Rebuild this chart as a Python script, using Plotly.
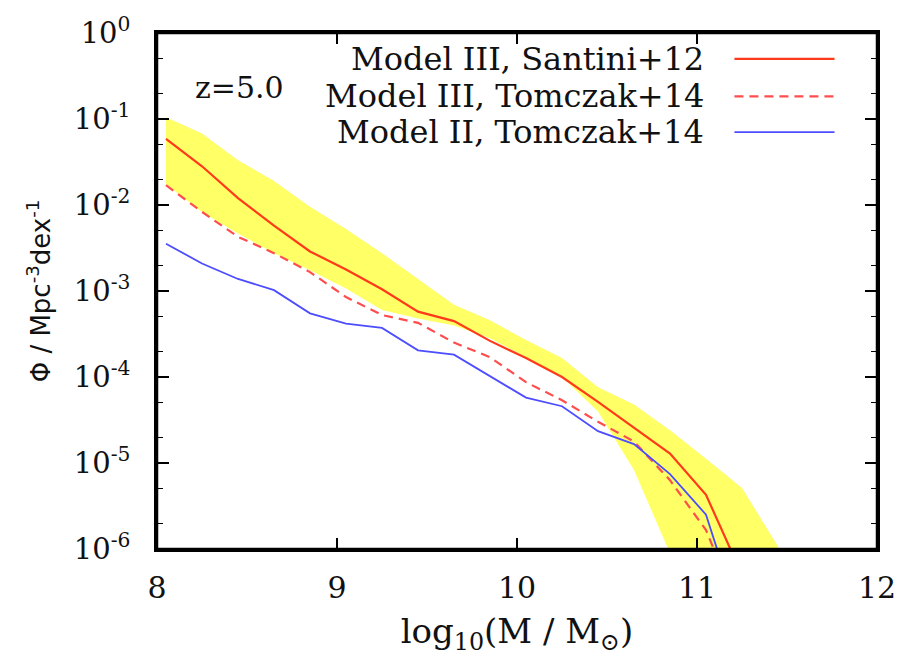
import plotly.graph_objects as go

# Stellar mass bins (log10 M / Msun)
mass = [8.05, 8.25, 8.45, 8.65, 8.85, 9.05, 9.25, 9.45, 9.65, 9.85,
        10.05, 10.25, 10.45, 10.65, 10.85, 11.05, 11.25]

# log10 Phi for each model
logphi_m3_santini = [-1.23, -1.55, -1.92, -2.24, -2.54, -2.75, -2.98, -3.24, -3.35, -3.58,
                     -3.78, -4.00, -4.29, -4.59, -4.89, -5.37, -6.30]
logphi_m3_tomczak = [-1.77, -2.08, -2.37, -2.56, -2.78, -3.07, -3.28, -3.37, -3.60, -3.77,
                     -4.06, -4.27, -4.52, -4.75, -5.20, -5.78, -6.80]
logphi_m2_tomczak = [-2.45, -2.68, -2.86, -2.99, -3.26, -3.38, -3.43, -3.69, -3.74, -3.99,
                     -4.24, -4.34, -4.63, -4.78, -5.13, -5.60, -6.90]

# Observational range (shaded band)
band_mass = [8.05, 8.25, 8.45, 8.65, 8.85, 9.05, 9.25, 9.45, 9.65, 9.85,
             10.05, 10.25, 10.45, 10.65, 10.85, 11.05, 11.25, 11.45, 11.65]
band_upper = [-0.98, -1.17, -1.48, -1.72, -2.02, -2.28, -2.56, -2.86, -3.16, -3.34,
              -3.57, -3.78, -4.12, -4.32, -4.62, -4.95, -5.29, -5.97, -7.00]
band_lower = [-1.76, -2.08, -2.33, -2.56, -2.76, -2.97, -3.22, -3.32, -3.40, -3.55,
              -3.77, -4.00, -4.40, -5.08, -6.05, -8.00, -8.00, -8.00, -8.00]

ytick_exp = [0, -1, -2, -3, -4, -5, -6]
xtick_vals = [8, 9, 10, 11, 12]

legend_labels = ["Model III, Santini+12", "Model III, Tomczak+14", "Model II, Tomczak+14"]
redshift_label = "z=5.0"

RED = "#ff3a1a"
RED_DASH = "#ff4d4d"
BLUE = "#4d4dff"
YELLOW = "#ffff66"
SERIF = "DejaVu Serif"


def pw(v):
    return [10 ** e for e in v]


fig = go.Figure()

fig.add_trace(go.Scatter(x=band_mass, y=pw(band_upper), mode="lines",
                         line=dict(width=0, color=YELLOW), showlegend=False,
                         hoverinfo="skip"))
fig.add_trace(go.Scatter(x=band_mass, y=pw(band_lower), mode="lines",
                         line=dict(width=0, color=YELLOW), fill="tonexty",
                         fillcolor=YELLOW, showlegend=False, hoverinfo="skip"))

styles = [
    (logphi_m3_santini, dict(color=RED, width=2.2)),
    (logphi_m3_tomczak, dict(color=RED_DASH, width=2.2, dash="9px,6px")),
    (logphi_m2_tomczak, dict(color=BLUE, width=1.8)),
]
for vals, ln in styles:
    fig.add_trace(go.Scatter(x=mass, y=pw(vals), mode="lines", line=ln,
                             showlegend=False))

# Legend drawn as right-aligned text with the line sample to its right
legend_rows_y = [0.950, 0.877, 0.808]
for (vals, ln), label, yy in zip(styles, legend_labels, legend_rows_y):
    fig.add_annotation(text=label, xref="paper", yref="paper", x=0.763, y=yy,
                       xanchor="right", yanchor="middle", showarrow=False,
                       font=dict(family=SERIF, size=32, color="#111"))
    fig.add_shape(type="line", xref="paper", yref="paper",
                  x0=0.802, x1=0.941, y0=yy, y1=yy, line=ln)

fig.add_annotation(text=redshift_label, xref="paper", yref="paper", x=0.115, y=0.895,
                   xanchor="center", yanchor="middle", showarrow=False,
                   font=dict(family=SERIF, size=30, color="#111"))

# Frame around the plotting area
fig.add_shape(type="rect", xref="paper", yref="paper", x0=0, x1=1, y0=0, y1=1,
              line=dict(color="black", width=2.5), fillcolor="rgba(0,0,0,0)",
              layer="above")

axis_common = dict(showline=True, linecolor="black", linewidth=2.5, mirror="allticks",
                   ticks="inside", tickcolor="black", tickwidth=1.5, showgrid=False,
                   zeroline=False, ticklabeloverflow="allow")

fig.update_xaxes(range=[8, 12], tickvals=xtick_vals, ticklen=11,
                 ticktext=[str(v) for v in xtick_vals],
                 tickfont=dict(family=SERIF, size=30, color="#111"),
                 ticklabelstandoff=10,
                 title=dict(text="log<sub>10</sub>(M / M<sub>⊙</sub>)",
                            font=dict(family=SERIF, size=34, color="#111"),
                            standoff=16),
                 **axis_common)
fig.update_yaxes(type="log", range=[-6, 0], tickvals=pw(ytick_exp), ticklen=12,
                 ticktext=[f"10<sup>{e}</sup>" for e in ytick_exp],
                 tickfont=dict(family=SERIF, size=29, color="#111"),
                 ticklabelstandoff=18,
                 minor=dict(ticks="inside", ticklen=6, tickcolor="black", tickwidth=1.2),
                 title=dict(text="Φ / Mpc<sup>-3</sup>dex<sup>-1</sup>",
                            font=dict(family="DejaVu Sans", size=26, color="#111"),
                            standoff=16),
                 **axis_common)

fig.update_layout(width=923, height=660, plot_bgcolor="white", paper_bgcolor="white",
                  margin=dict(l=157, r=46, t=20, b=111), showlegend=False)

fig.write_html("out.html")
